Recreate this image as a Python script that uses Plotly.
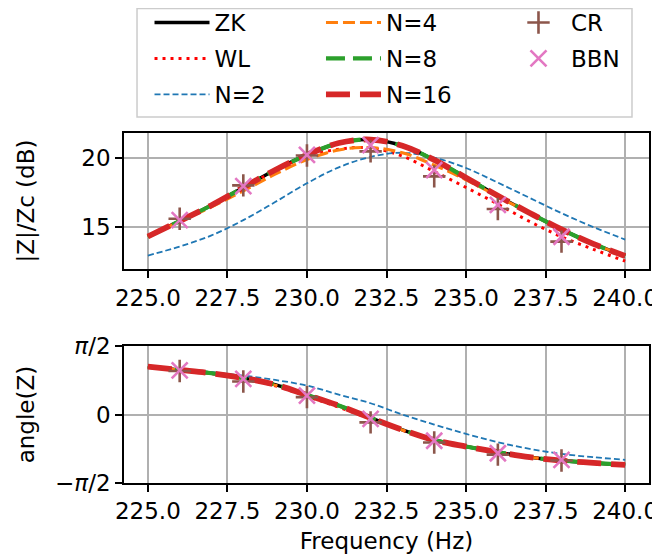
import plotly.graph_objects as go
import math

# ---------------- data ----------------
freq = [225, 226, 227, 228, 229, 230, 231, 232, 233, 234, 235, 236, 237, 238, 239, 240]

zk_mag  = [14.32, 15.43, 16.57, 17.85, 19.11, 20.19, 21.05, 21.30, 20.85, 19.83, 18.55, 17.25, 16.01, 14.83, 13.79, 12.92]
wl_mag  = [14.32, 15.45, 16.60, 17.85, 19.05, 20.10, 20.60, 20.70, 20.10, 19.00, 17.85, 16.65, 15.40, 14.30, 13.40, 12.55]
n2_mag  = [12.95, 13.60, 14.40, 15.50, 16.80, 18.15, 19.30, 20.05, 20.35, 20.00, 19.25, 18.20, 17.10, 16.00, 15.00, 14.10]
n4_mag  = [14.30, 15.40, 16.45, 17.60, 18.80, 19.85, 20.55, 20.72, 20.35, 19.45, 18.40, 17.20, 16.00, 14.83, 13.79, 12.92]
n8_mag  = [14.32, 15.43, 16.57, 17.85, 19.11, 20.19, 21.05, 21.30, 20.85, 19.83, 18.55, 17.25, 16.01, 14.83, 13.79, 12.92]
n16_mag = [14.32, 15.43, 16.57, 17.85, 19.11, 20.19, 21.05, 21.30, 20.85, 19.83, 18.55, 17.25, 16.01, 14.83, 13.79, 12.92]

zk_ang  = [1.10, 1.025, 0.948, 0.84, 0.688, 0.45, 0.206, -0.076, -0.35, -0.585, -0.734, -0.864, -0.978, -1.055, -1.109, -1.155]
wl_ang  = [1.10, 1.020, 0.940, 0.82, 0.660, 0.42, 0.170, -0.100, -0.36, -0.590, -0.734, -0.864, -0.978, -1.055, -1.109, -1.155]
n2_ang  = [1.10, 1.045, 0.975, 0.894, 0.795, 0.665, 0.459, 0.26, 0.0, -0.229, -0.443, -0.635, -0.787, -0.902, -0.979, -1.039]
n4_ang  = [1.10, 1.020, 0.945, 0.83, 0.675, 0.44, 0.195, -0.085, -0.355, -0.585, -0.734, -0.864, -0.978, -1.055, -1.109, -1.155]
n8_ang  = zk_ang
n16_ang = zk_ang

pt_freq = [226, 228, 230, 232, 234, 236, 238]
cr_mag  = [15.60, 18.00, 20.15, 20.45, 18.65, 16.30, 13.95]
bbn_mag = [15.50, 17.95, 20.20, 20.90, 19.10, 16.60, 14.30]
cr_ang  = [1.00, 0.76, 0.40, -0.18, -0.64, -0.92, -1.055]
bbn_ang = [1.015, 0.82, 0.435, -0.10, -0.60, -0.887, -1.04]

x_ticks = [225.0, 227.5, 230.0, 232.5, 235.0, 237.5, 240.0]
mag_ticks = [15, 20]
ang_ticks = [-math.pi / 2, 0, math.pi / 2]
ang_ticktext = ["−<i>π</i>/2", "0", "<i>π</i>/2"]

# ---------------- styles ----------------
FONT = "DejaVu Sans"
FS = 23

lines = [
    ("ZK", zk_mag, zk_ang, "black", 3.5, "solid", "legend"),
    ("WL", wl_mag, wl_ang, "#ff0000", 3, "3px,5px", "legend"),
    ("N=2", n2_mag, n2_ang, "#1f77b4", 1.8, "6px,3px", "legend"),
    ("N=4", n4_mag, n4_ang, "#ff7f0e", 3, "12px,5px", "legend2"),
    ("N=8", n8_mag, n8_ang, "#2ca02c", 4.2, "19px,8px", "legend2"),
    ("N=16", n16_mag, n16_ang, "#d62728", 5.8, "24px,10px", "legend2"),
]

fig = go.Figure()
for name, mag, ang, col, w, dash, leg in lines:
    fig.add_trace(go.Scatter(x=freq, y=mag, mode="lines", name=name,
                             line=dict(color=col, width=w, dash=dash, shape="spline"),
                             legend=leg, legendgroup=name, showlegend=True,
                             xaxis="x", yaxis="y"))
    fig.add_trace(go.Scatter(x=freq, y=ang, mode="lines", name=name,
                             line=dict(color=col, width=w, dash=dash, shape="spline"),
                             legendgroup=name, showlegend=False,
                             xaxis="x2", yaxis="y2"))

markers = [
    ("CR", cr_mag, cr_ang, "#8c564b", "cross-thin"),
    ("BBN", bbn_mag, bbn_ang, "#e377c2", "x-thin"),
]
for name, mag, ang, col, sym in markers:
    mk = dict(symbol=sym, size=16, color=col, line=dict(color=col, width=2.6))
    fig.add_trace(go.Scatter(x=pt_freq, y=mag, mode="markers", name=name, marker=mk,
                             legend="legend3", legendgroup=name, xaxis="x", yaxis="y"))
    fig.add_trace(go.Scatter(x=pt_freq, y=ang, mode="markers", name=name, marker=mk,
                             legendgroup=name, showlegend=False, xaxis="x2", yaxis="y2"))

axis_common = dict(
    showline=True, mirror=True, linecolor="black", linewidth=1.6,
    ticks="outside", ticklen=7, tickwidth=1.6, tickcolor="black",
    showgrid=True, gridcolor="#b0b0b0", gridwidth=1.6, zeroline=False,
    tickfont=dict(family=FONT, size=FS, color="black"),
    automargin=False,
)

legend_common = dict(
    orientation="v", bgcolor="rgba(0,0,0,0)", borderwidth=0,
    font=dict(family=FONT, size=FS, color="black"),
    yanchor="top", y=1.377, xanchor="left", tracegroupgap=3,
    itemwidth=55, traceorder="grouped",
)

# the page body adds an 8px offset, so the figure is 8px smaller on each side
fig.update_layout(
    width=652, height=550,
    margin=dict(l=116, r=11, t=125, b=75, autoexpand=False),
    paper_bgcolor="white", plot_bgcolor="white",
    font=dict(family=FONT, size=FS, color="black"),
    xaxis=dict(domain=[0, 1], anchor="y", range=[224.25, 240.75],
               tickvals=x_ticks, tickformat=".1f", **axis_common),
    yaxis=dict(domain=[0.611, 1], anchor="x", range=[11.97, 21.77],
               tickvals=mag_ticks,
               title=dict(text="|Z|/Zc (dB)", font=dict(family=FONT, size=FS), standoff=40),
               **axis_common),
    xaxis2=dict(domain=[0, 1], anchor="y2", range=[224.25, 240.75],
                tickvals=x_ticks, tickformat=".1f",
                title=dict(text="Frequency (Hz)", font=dict(family=FONT, size=FS), standoff=9),
                **axis_common),
    yaxis2=dict(domain=[0, 0.391], anchor="x2", range=[-math.pi / 2, math.pi / 2],
                tickvals=ang_ticks, ticktext=ang_ticktext,
                title=dict(text="angle(Z)", font=dict(family=FONT, size=FS), standoff=14),
                **axis_common),
    legend=dict(x=0.0486, **legend_common),
    legend2=dict(x=0.3752, **legend_common),
    legend3=dict(x=0.7276, **legend_common),
    shapes=[dict(type="rect", xref="paper", yref="paper",
                 x0=0.0248, x1=0.9676, y0=1.0457, y1=1.3557,
                 line=dict(color="#cccccc", width=1.5), fillcolor="white",
                 layer="below")],
    showlegend=True,
)

fig.write_html("out.html")
